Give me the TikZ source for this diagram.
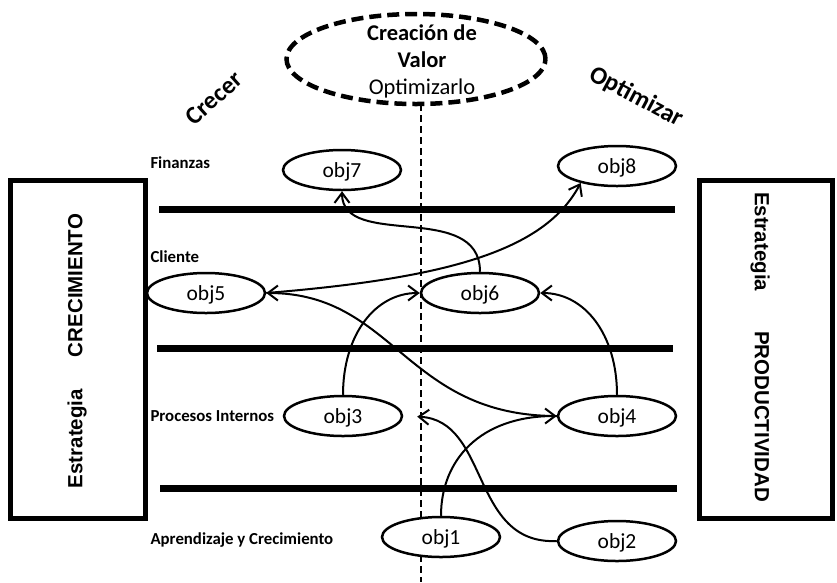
\documentclass[tikz,border=0pt]{standalone}
\usepackage{fontspec}
\setmainfont{Carlito}
\newfontfamily\arialfont{Liberation Sans}
\usetikzlibrary{shapes.geometric,arrows.meta}
\begin{document}
\begin{tikzpicture}[x=1pt,y=-1pt,
  obj/.style={ellipse,draw,line width=2.5pt,fill=white,minimum width=118pt,minimum height=40pt,inner sep=0pt,text depth=0pt,font=\fontsize{21.5}{25}\selectfont},
  lvl/.style={anchor=west,font=\fontsize{16.8}{19}\selectfont\bfseries},
  band/.style={line width=7pt},
  conn/.style={line width=2pt,-{Straight Barb[length=10pt,width=15pt,line width=2pt]}},
  sbox/.style={draw,line width=5pt,inner sep=0pt},
  boxtext/.style={font=\arialfont\fontsize{20.5}{24}\selectfont\bfseries},
  axis/.style={font=\fontsize{25}{29}\selectfont\bfseries},
]
\useasboundingbox (0,0) rectangle (837,582);

% strategy boxes
\node[sbox,minimum width=135pt,minimum height=338pt] (lbox) at (77.5,349) {};
\node[boxtext,rotate=90] (ltext) at (77,351) {Estrategia\hspace{32pt}CRECIMIENTO};
\node[sbox,minimum width=132.5pt,minimum height=338pt] (rbox) at (765.75,349) {};
\node[boxtext,rotate=-90] (rtext) at (760,347) {Estrategia\hspace{40pt}PRODUCTIVIDAD};

% central dashed axis
\coordinate (vtop) at (421,104);
\coordinate (vbot) at (421,582);
\draw[line width=2pt,dash pattern=on 7pt off 4pt] (vtop) -- (vbot);

% value ellipse
\node[ellipse,draw,line width=4.5pt,dash pattern=on 12pt off 6pt,fill=white,minimum width=259pt,minimum height=90pt] (valor) at (416,59) {};
\node[align=center,font=\fontsize{22.5}{27}\selectfont] (valtext) at (422,61) {\textbf{Creación de}\\\textbf{Valor}\\Optimizarlo};

% axis words
\node[axis,rotate=42] (crecer) at (214,98) {Crecer};
\node[axis,rotate=-28] (optim) at (636,97) {Optimizar};

% perspective separators
\coordinate (a1) at (159,209); \coordinate (b1) at (675,209);
\coordinate (a2) at (157,348); \coordinate (b2) at (673,348);
\coordinate (a3) at (160,488); \coordinate (b3) at (677,488);
\draw[band] (a1) -- (b1);
\draw[band] (a2) -- (b2);
\draw[band] (a3) -- (b3);

% perspective labels
\node[lvl] (fin) at (147,163) {Finanzas};
\node[lvl] (cli) at (147,257) {Cliente};
\node[lvl] (pro) at (147,416) {Procesos Internos};
\node[lvl] (apr) at (147,540) {Aprendizaje y Crecimiento};

% objectives
\node[obj] (obj7) at (342,170) {obj7};
\node[obj] (obj8) at (617,166) {obj8};
\node[obj] (obj5) at (206,293) {obj5};
\node[obj] (obj6) at (480,293) {obj6};
\node[obj] (obj3) at (343,416) {obj3};
\node[obj] (obj4) at (617,416) {obj4};
\node[obj] (obj1) at (441,537) {obj1};
\node[obj] (obj2) at (617,541) {obj2};

% connectors
\draw[conn] (obj6.north) .. controls (480,200) and (342,250) .. (obj7.south);
\draw[conn] (obj5.east) .. controls (450,278) and (545,250) .. (obj8.205);
\draw[conn] (obj3.north) .. controls (343,335) and (375,293) .. (obj6.west);
\draw[conn] (obj4.north) .. controls (617,335) and (585,293) .. (obj6.east);
\draw[conn] (obj4.west) .. controls (405,416) and (395,293) .. (obj5.east);
\draw[conn] (obj1.north) .. controls (441,460) and (480,416) .. (obj4.west);
\draw[conn,shorten >=14pt] (obj2.west) .. controls (470,545) and (490,420) .. (obj3.east);
\end{tikzpicture}
\end{document}
